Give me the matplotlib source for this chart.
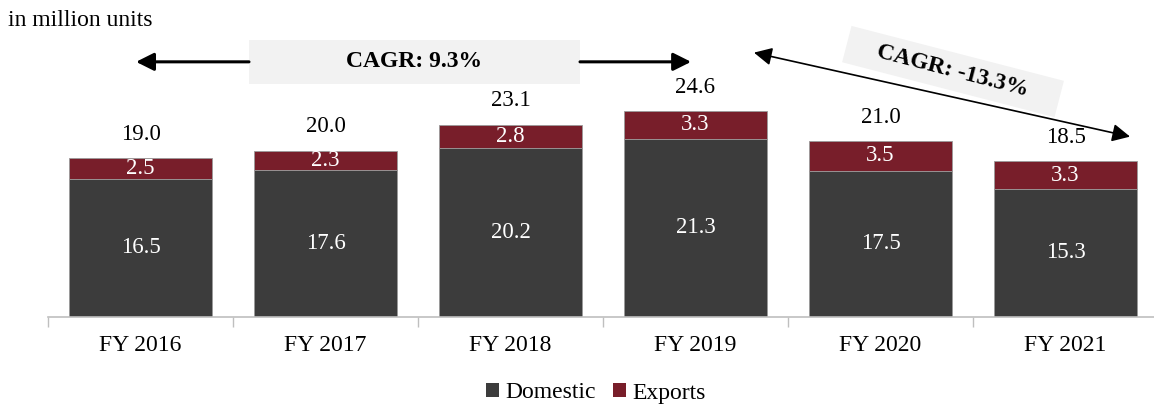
import matplotlib
matplotlib.use("Agg")
import matplotlib.pyplot as plt
from matplotlib.patches import Patch, Rectangle

plt.rcParams['font.family'] = ['Liberation Serif', 'DejaVu Serif']

# datos
years = ["FY 2016", "FY 2017", "FY 2018", "FY 2019", "FY 2020", "FY 2021"]
domestic = [16.5, 17.6, 20.2, 21.3, 17.5, 15.3]
exports = [2.5, 2.3, 2.8, 3.3, 3.5, 3.3]
totals = [19.0, 20.0, 23.1, 24.6, 21.0, 18.5]
cagr_up = "CAGR: 9.3%"
cagr_down = "CAGR: -13.3%"

c_dom = '#3C3C3C'
c_exp = '#781E2A'

fig = plt.figure(figsize=(11.54, 4.05), dpi=100)
ax = fig.add_axes([48 / 1154, 88 / 405, 1110 / 1154, 297 / 405])

x = list(range(len(years)))
ax.bar(x, domestic, width=0.77, color=c_dom, edgecolor='#9A9A9A', linewidth=0.6)
ax.bar(x, exports, width=0.77, bottom=domestic, color=c_exp, edgecolor='#9A9A9A', linewidth=0.6)

for i in x:
    ax.text(i, domestic[i] / 2, f"{domestic[i]:.1f}", ha='center', va='center',
            color='white', fontsize=16.5)
    ax.text(i, domestic[i] + exports[i] / 2, f"{exports[i]:.1f}", ha='center', va='center',
            color='white', fontsize=16.5)
    ax.annotate(f"{totals[i]:.1f}", (i, domestic[i] + exports[i]), xytext=(0, 17),
                textcoords='offset points', ha='center', va='center', fontsize=16.5)

ax.set_xlim(-0.5, 5.5)
ax.set_ylim(0, 35.5)

# ejes
for s in ['left', 'top', 'right']:
    ax.spines[s].set_visible(False)
ax.spines['bottom'].set_color('#BFBFBF')
ax.spines['bottom'].set_linewidth(1.2)
ax.set_yticks([])
ax.set_xticks([i - 0.5 for i in range(len(years) + 1)])
ax.set_xticklabels([])
ax.tick_params(axis='x', which='major', length=7, color='#BFBFBF', width=1)
ax.set_xticks(x, minor=True)
ax.set_xticklabels(years, minor=True, fontsize=17)
ax.tick_params(axis='x', which='minor', length=0, pad=13)

# CAGR creciente
ax.add_patch(Rectangle((0.5865, 27.87), 2.3757 - 0.5865, 33.13 - 27.87,
                       facecolor='#F2F2F2', edgecolor='none', clip_on=False))
ax.text(1.481, 30.5, cagr_up, ha='center', va='center', fontsize=17, fontweight='bold')
flecha = dict(arrowstyle='-|>,head_length=0.9,head_width=0.45', color='black',
              lw=2.2, mutation_scale=12, shrinkA=0, shrinkB=0)
ax.annotate('', xy=(-0.024, 30.5), xytext=(0.5865, 30.5), arrowprops=flecha,
            annotation_clip=False)
ax.annotate('', xy=(2.976, 30.5), xytext=(2.3757, 30.5), arrowprops=flecha,
            annotation_clip=False)

# CAGR decreciente
ax.annotate('', xy=(5.349, 21.56), xytext=(3.316, 31.6),
            arrowprops=dict(arrowstyle='<|-|>,head_length=0.9,head_width=0.45',
                            color='black', lw=1.2, mutation_scale=12,
                            shrinkA=0, shrinkB=0),
            annotation_clip=False)
ax.text(4.392, 29.34, "    " + cagr_down + "    ", ha='center', va='center',
        rotation=-14.5, rotation_mode='anchor', fontsize=17, fontweight='bold',
        bbox=dict(facecolor='#F2F2F2', edgecolor='none', pad=6))

fig.text(8 / 1154, 1 - 20 / 405, "in million units", ha='left', va='center', fontsize=17)

handles = [Patch(facecolor=c_dom, edgecolor='none'), Patch(facecolor=c_exp, edgecolor='none')]
fig.legend(handles, ["Domestic", "Exports"], loc='center', ncol=2,
           bbox_to_anchor=(596 / 1154, 1 - 393 / 405), frameon=False, fontsize=17,
           handlelength=0.55, handleheight=0.55, handletextpad=0.25,
           columnspacing=0.75, borderpad=0)

fig.savefig("out.png", dpi=100)
